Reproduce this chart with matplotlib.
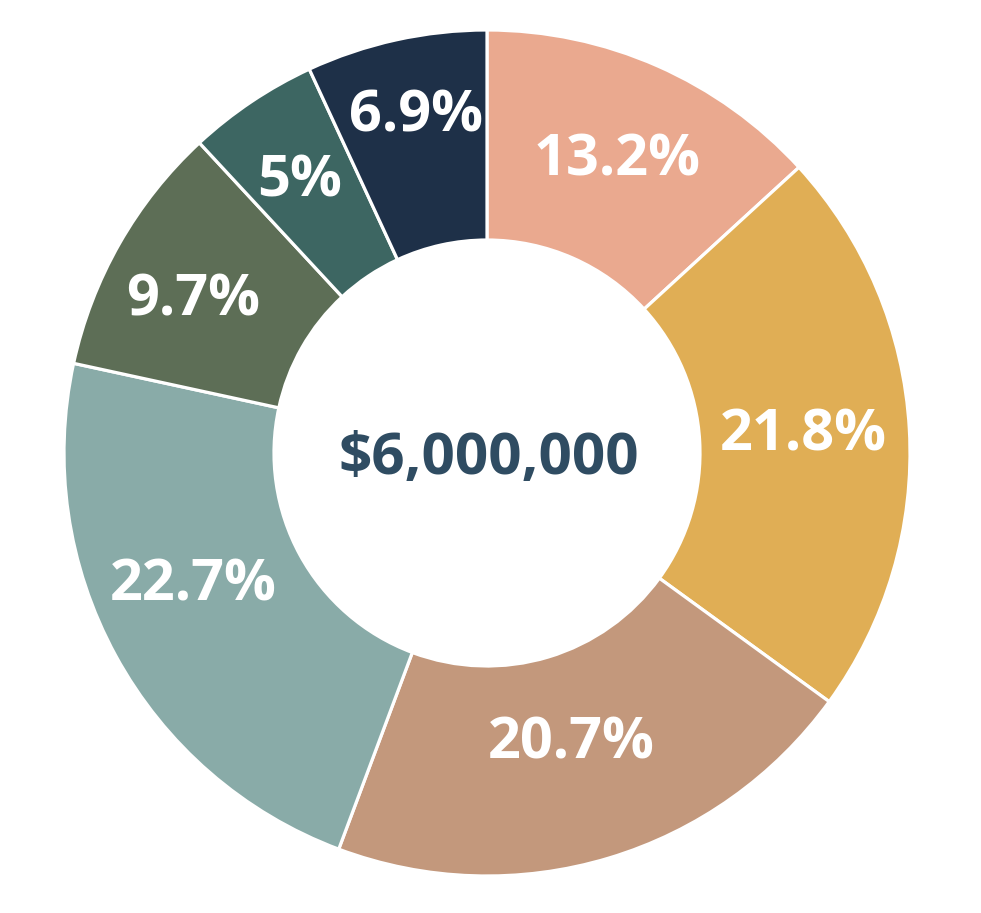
import matplotlib
matplotlib.use("Agg")
import matplotlib.pyplot as plt
import numpy as np

values = [13.2, 21.8, 20.7, 22.7, 9.7, 5.0, 6.9]
pct_labels = ["13.2%", "21.8%", "20.7%", "22.7%", "9.7%", "5%", "6.9%"]
colors = ["#EAA98F", "#E0AE55", "#C3987C", "#89ABA8", "#5D6E56", "#3D6662", "#1E3048"]
total_label = "$6,000,000"

# label nudges in pixels (x right, y down) relative to mid-ring point
label_nudges = [(2, -1), (-1, 0), (-7, -14), (-15, -20), (-18, 5), (-10, -7), (-3, -26)]

W, H = 981, 913
fig = plt.figure(figsize=(W / 100, H / 100), dpi=100)
ax = fig.add_axes([0, 0, 1, 1])

cx, cy = 487, H - 453
R = 423
r_in = 213
ax.pie(values, colors=colors, startangle=90, counterclock=False,
       radius=R, center=(cx, cy), frame=True,
       wedgeprops=dict(width=R - r_in, edgecolor="white", linewidth=2.3))
ax.set_xlim(0, W)
ax.set_ylim(0, H)
ax.set_aspect("equal")
ax.axis("off")

total = sum(values)
cum = 0
rmid = (R + r_in) / 2
for v, lab, (dx, dy) in zip(values, pct_labels, label_nudges):
    mid = 90 - (cum + v / 2) / total * 360
    cum += v
    x = cx + rmid * np.cos(np.radians(mid))
    y = cy + rmid * np.sin(np.radians(mid))
    ax.annotate(lab, (x, y), xytext=(dx, -dy), textcoords="offset pixels",
                ha="center", va="center", color="white",
                fontsize=41.5, fontweight="bold", family="Open Sans")

ax.annotate(total_label, (cx, cy), xytext=(2, -6), textcoords="offset pixels",
            ha="center", va="center", color="#2F4C62",
            fontsize=42, fontweight="bold", family="Open Sans")

fig.savefig("out.png", dpi=100)
